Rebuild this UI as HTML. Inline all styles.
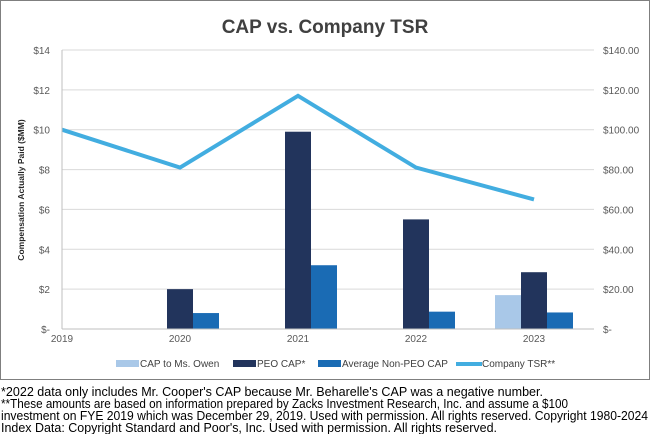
<!DOCTYPE html>
<html><head><meta charset="utf-8"><style>
body{margin:0;background:#fff;width:650px;height:434px;overflow:hidden;font-family:"Liberation Sans",sans-serif}
</style></head><body>
<svg id="c" width="650" height="434" xmlns="http://www.w3.org/2000/svg">
<rect x="0.5" y="0.5" width="649" height="379" fill="#fff" stroke="#7f7f7f"/>
<text x="325" y="33" text-anchor="middle" font-size="19" font-weight="bold" fill="#404040">CAP vs. Company TSR</text>
<text transform="translate(24,190) rotate(-90)" text-anchor="middle" font-size="8.5" font-weight="bold" fill="#262626">Compensation Actually Paid ($MM)</text>
<g id="grid"></g><g id="bars"></g><g id="line"></g><g id="ticks"></g>
<g font-size="10" fill="#404040">
<rect x="116" y="360" width="23" height="7" fill="#a9c8e8"/>
<text x="140" y="367">CAP to Ms. Owen</text>
<rect x="233" y="360" width="23" height="7" fill="#22345c"/>
<text x="257" y="367">PEO CAP*</text>
<rect x="318" y="360" width="23" height="7" fill="#1a6bb4"/>
<text x="342" y="367">Average Non-PEO CAP</text>
<line x1="456" y1="364" x2="482" y2="364" stroke="#42ade0" stroke-width="4"/>
<text x="482" y="367">Company TSR**</text>
</g>
<g font-size="13" fill="#000">
<text x="1" y="396" textLength="542" lengthAdjust="spacingAndGlyphs">*2022 data only includes Mr. Cooper's CAP because Mr. Beharelle's CAP was a negative number.</text>
<text x="1" y="408" textLength="567" lengthAdjust="spacingAndGlyphs">**These amounts are based on information prepared by Zacks Investment Research, Inc. and assume a $100</text>
<text x="1" y="420" textLength="647" lengthAdjust="spacingAndGlyphs">investment on FYE 2019 which was December 29, 2019. Used with permission. All rights reserved. Copyright 1980-2024</text>
<text x="1" y="432" textLength="496" lengthAdjust="spacingAndGlyphs">Index Data: Copyright Standard and Poor's, Inc. Used with permission. All rights reserved.</text>
</g>
</svg>
<script>
const years=["2019","2020","2021","2022","2023"];
const owenCap=[null,null,null,null,1.7];
const peoCap=[null,2.0,9.9,5.5,2.85];
const nonPeoCap=[null,0.8,3.2,0.87,0.83];
const tsr=[100,81,117,81,65];
const leftTicks=["$-","$2","$4","$6","$8","$10","$12","$14"];
const rightTicks=["$-","$20.00","$40.00","$60.00","$80.00","$100.00","$120.00","$140.00"];
const NS="http://www.w3.org/2000/svg";
const x0=62,step=118,yTop=50,yBot=329,xEnd=594;
const xs=i=>x0+i*step;
const yL=v=>yBot-(v/14)*(yBot-yTop);
const yR=v=>yBot-(v/140)*(yBot-yTop);
function mk(p,t,a){const e=document.createElementNS(NS,t);for(const k in a)e.setAttribute(k,a[k]);document.getElementById(p).appendChild(e);return e;}
leftTicks.forEach((t,i)=>{const y=yL(i*2);
 if(i>0){const g=mk('grid','line',{x1:x0,x2:xEnd,y1:y,y2:y,stroke:'#d9d9d9','stroke-width':1});
 
 }
 const a=mk('ticks','text',{x:50,y:y+4,'text-anchor':'end','font-size':10,fill:'#595959'});a.textContent=t;
 
 
 const b=mk('ticks','text',{x:603,y:y+4,'font-size':10,fill:'#595959'});b.textContent=rightTicks[i];
 
 
});
const ax=mk('ticks','line',{x1:x0,x2:x0,y1:yTop,y2:yBot,stroke:'#bfbfbf'});


const bx=mk('ticks','line',{x1:x0,x2:xEnd,y1:yBot,y2:yBot,stroke:'#bfbfbf'});


years.forEach((yr,i)=>{const t=mk('ticks','text',{x:xs(i),y:342,'text-anchor':'middle','font-size':10,fill:'#595959'});t.textContent=yr;
 
 });
const bw=26;
[[owenCap,'#a9c8e8',-1.5],[peoCap,'#22345c',-0.5],[nonPeoCap,'#1a6bb4',0.5]].forEach(([arr,col,off])=>{
 arr.forEach((v,i)=>{if(v==null)return;
  const r=mk('bars','rect',{x:xs(i)+off*bw,y:yL(v),width:bw,height:yBot-yL(v),fill:col});
  
  });
});
const pl=mk('line','polyline',{points:tsr.map((v,i)=>xs(i)+','+yR(v)).join(' '),fill:'none',stroke:'#42ade0','stroke-width':4});


</script>
</body></html>
